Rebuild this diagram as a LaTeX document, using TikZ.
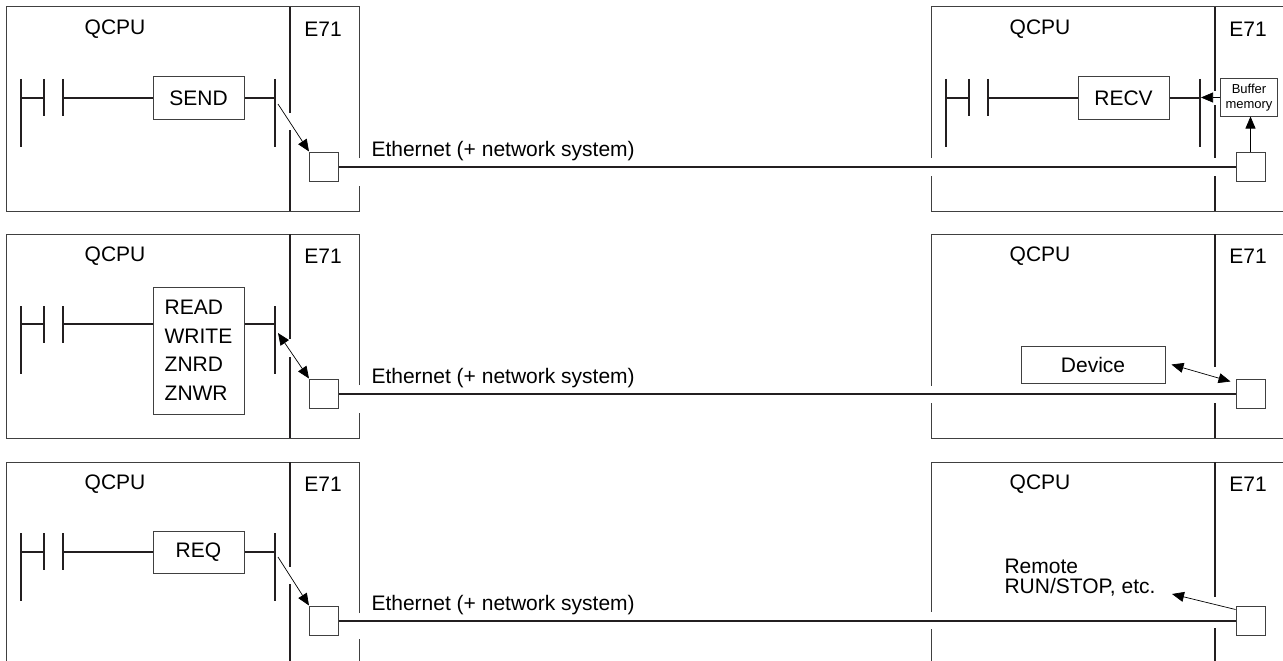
\documentclass[tikz,border=0pt]{standalone}
\usepackage{fontspec}
\setmainfont{Liberation Sans}
\usetikzlibrary{arrows.meta}
\definecolor{boxgray}{RGB}{64,64,64}
\definecolor{railblack}{RGB}{35,31,32}

\begin{document}
\begin{tikzpicture}[
	x=1pt, y=-1pt,
	font=\fontsize{21}{25}\selectfont,
	rail/.style={line width=2pt, color=railblack},
	frame/.style={line width=1pt, color=boxgray},
	port/.style={draw=boxgray, line width=1pt, minimum size=29pt, inner sep=0pt},
	instr/.style={draw=boxgray, line width=1pt, minimum width=91pt, minimum height=42pt, inner sep=0pt},
	sig/.style={line width=0.7pt, -{Triangle[length=12pt, width=10pt]}},
	sigboth/.style={line width=0.7pt, {Triangle[length=12pt, width=10pt]}-{Triangle[length=12pt, width=10pt]}}
	]
	\useasboundingbox (0, 0) rectangle (1283, 661);
	\clip (0, 0) rectangle (1283, 661);

	% row 1: SEND -> RECV
	\draw [frame] (359, 158) -- (359, 7) -- (6, 7) -- (6, 211) -- (359, 211) -- (359, 186);
	\draw [rail] (290, 7) -- (290, 113);
	\draw [rail] (290, 130) -- (290, 211);
	\node (cpuA) at (115, 29) {QCPU};
	\node (lanA) at (323, 29) {E71};
	\draw [rail] (21, 79) -- (21, 147);
	\draw [rail] (44, 79) -- (44, 116);
	\draw [rail] (63, 79) -- (63, 116);
	\draw [rail] (275, 79) -- (275, 147);
	\node (send) at (198.5, 98) [instr] {SEND};
	\draw [rail] (21, 98) -- (44, 98);
	\draw [rail] (63, 98) -- (send.west);
	\draw [rail] (send.east) -- (275, 98);
	\node (portA) at (324, 166.5) [port] {};
	\coordinate (txA) at (278, 104);
	\draw [sig] (txA) -- (portA.north west);

	\draw [frame] (1283, 7) -- (931, 7) -- (931, 158);
	\draw [frame] (931, 176) -- (931, 211) -- (1283, 211);
	\draw [rail] (1215, 7) -- (1215, 91);
	\draw [rail] (1215, 105) -- (1215, 158);
	\draw [rail] (1215, 176) -- (1215, 211);
	\node (cpuB) at (1040, 29) {QCPU};
	\node (lanB) at (1248, 29) {E71};
	\draw [rail] (946, 79) -- (946, 147);
	\draw [rail] (969, 79) -- (969, 116);
	\draw [rail] (988, 79) -- (988, 116);
	\draw [rail] (1200, 79) -- (1200, 147);
	\node (recv) at (1123.5, 98) [instr] {RECV};
	\draw [rail] (946, 98) -- (969, 98);
	\draw [rail] (988, 98) -- (recv.west);
	\draw [rail] (recv.east) -- (1200, 98);
	\node (buffer) at (1249, 97.5) [draw=boxgray, line width=1pt, minimum width=57pt, minimum height=37pt, inner sep=0pt, align=center, font=\fontsize{13}{15.5}\selectfont] {Buffer\\memory};
	\node (portB) at (1250.5, 166.5) [port] {};
	\coordinate (rxB) at (1201, 97.5);
	\draw [sig] (portB.north) -- (portB.north |- buffer.south);
	\draw [sig] (buffer.west) -- (rxB);

	\draw [rail] (portA.east) -- (portB.west);
	\node (netA) at (368, 151) [anchor=west] {Ethernet (+ network system)};

	% row 2: READ/WRITE -> device
	\begin{scope}[shift={(0, 227)}]
	\draw [frame] (359, 158) -- (359, 7) -- (6, 7) -- (6, 211) -- (359, 211) -- (359, 186);
	\draw [rail] (290, 7) -- (290, 112);
	\draw [rail] (290, 130) -- (290, 211);
	\node (cpuC) at (115, 29) {QCPU};
	\node (lanC) at (323, 29) {E71};
	\draw [rail] (21, 79) -- (21, 147);
	\draw [rail] (44, 79) -- (44, 116);
	\draw [rail] (63, 79) -- (63, 116);
	\draw [rail] (275, 79) -- (275, 147);
	\node (rw) at (198.5, 123.5) [instr, minimum height=127pt, align=left, font=\fontsize{21}{28.5}\selectfont] {READ\\WRITE\\ZNRD\\ZNWR};
	\draw [rail] (21, 97) -- (44, 97);
	\draw [rail] (63, 97) -- (rw.west |- 0, 97);
	\draw [rail] (rw.east |- 0, 97) -- (275, 97);
	\node (portC) at (324, 166.5) [port] {};
	\coordinate (txC) at (278, 106);
	\draw [sigboth] (txC) -- (portC.north west);

	\draw [frame] (1283, 7) -- (931, 7) -- (931, 159);
	\draw [frame] (931, 176) -- (931, 211) -- (1283, 211);
	\draw [rail] (1215, 7) -- (1215, 140);
	\draw [rail] (1215, 176) -- (1215, 211);
	\node (cpuD) at (1040, 29) {QCPU};
	\node (lanD) at (1248, 29) {E71};
	\node (device) at (1093, 137.5) [draw=boxgray, line width=1pt, minimum width=144pt, minimum height=37pt, inner sep=0pt] {Device};
	\node (portD) at (1250.5, 166.5) [port] {};
	\draw [sigboth] ([xshift=6pt]device.east) -- ([xshift=-5pt, yshift=-3pt]portD.north west);

	\draw [rail] (portC.east) -- (portD.west);
	\node (netC) at (368, 151) [anchor=west] {Ethernet (+ network system)};
	\end{scope}

	% row 3: REQ -> remote RUN/STOP
	\begin{scope}[shift={(0, 455)}]
	\draw [frame] (359, 158) -- (359, 7) -- (6, 7) -- (6, 211) -- (359, 211) -- (359, 184);
	\draw [rail] (290, 7) -- (290, 112);
	\draw [rail] (290, 129) -- (290, 211);
	\node (cpuE) at (115, 29) {QCPU};
	\node (lanE) at (323, 29) {E71};
	\draw [rail] (21, 78) -- (21, 146);
	\draw [rail] (44, 78) -- (44, 115);
	\draw [rail] (63, 78) -- (63, 115);
	\draw [rail] (275, 78) -- (275, 146);
	\node (req) at (198.5, 97) [instr] {REQ};
	\draw [rail] (21, 97) -- (44, 97);
	\draw [rail] (63, 97) -- (req.west);
	\draw [rail] (req.east) -- (275, 97);
	\node (portE) at (324, 165.5) [port] {};
	\coordinate (txE) at (278, 102);
	\draw [sig] (txE) -- (portE.north west);

	\draw [frame] (1283, 7) -- (931, 7) -- (931, 157);
	\draw [frame] (931, 174) -- (931, 211) -- (1283, 211);
	\draw [rail] (1215, 7) -- (1215, 142);
	\draw [rail] (1215, 173) -- (1215, 211);
	\node (cpuF) at (1040, 29) {QCPU};
	\node (lanF) at (1248, 29) {E71};
	\node (remote) at (1001, 122.5) [anchor=west, align=left, font=\fontsize{21}{19.5}\selectfont] {Remote\\RUN/STOP, etc.};
	\node (portF) at (1250.5, 165.5) [port] {};
	\coordinate (remoteIn) at (1172, 139);
	\draw [sig] ([yshift=-4pt]portF.north west) -- (remoteIn);

	\draw [rail] (portE.east) -- (portF.west);
	\node (netE) at (368, 150) [anchor=west] {Ethernet (+ network system)};
	\end{scope}
\end{tikzpicture}
\end{document}
